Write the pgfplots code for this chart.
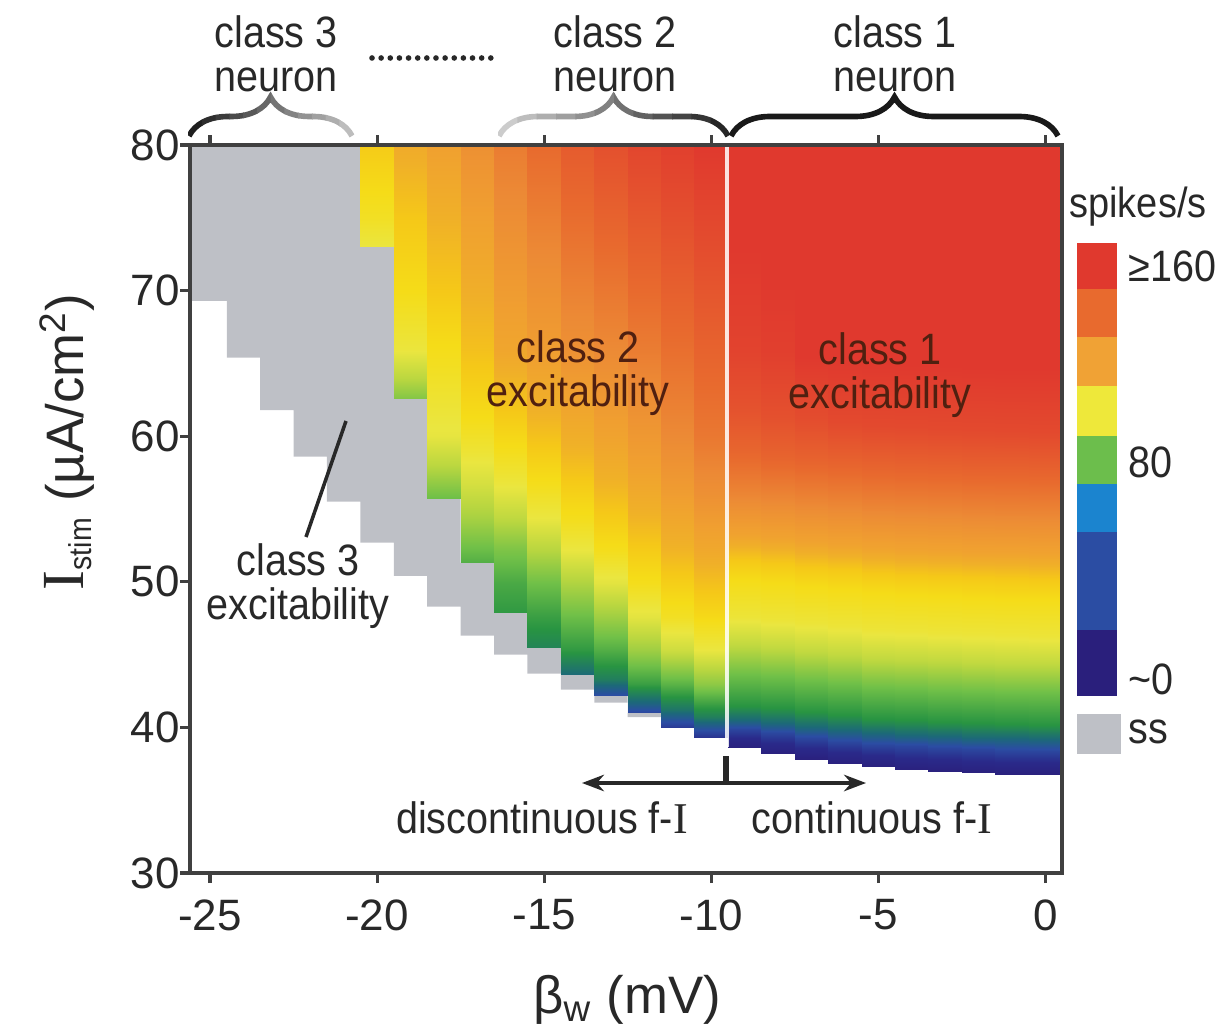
\documentclass[border=0pt]{standalone}
\usepackage{fontspec}
\setmainfont{Liberation Sans}
\newfontfamily\annot{Liberation Sans}[FakeStretch=0.9]
\newfontfamily\serifI{Liberation Serif}
\usepackage{pgfplots}
\pgfplotsset{compat=1.18}
\usetikzlibrary{arrows.meta,decorations.pathreplacing}

\definecolor{ssgray}{RGB}{190,192,198}
\definecolor{txt}{RGB}{40,40,40}
\definecolor{brn}{RGB}{80,32,16}

\pgfplotsset{
  col/.style={surf, shader=interp, mesh/cols=2, point meta=explicit},
}

\begin{document}
\begin{tikzpicture}
\path[use as bounding box] (-1.90,-1.60) rectangle (10.29,8.73);
\begin{axis}[
  at={(0,0)}, anchor=south west,
  scale only axis, width=8.72cm, height=7.28cm,
  xmin=-25.6, xmax=0.5, ymin=30, ymax=80,
  xtick={-25,-20,-15,-10,-5,0},
  xticklabels={-25,-20,-15,-10,-5,0},
  ytick={30,40,50,60,70,80},
  yticklabels={30,40,50,60,70,80},
  tick align=outside, xtick pos=both, ytick pos=left,
  major tick length=1mm,
  axis line style={black!75, line width=1.1pt},
  every tick/.style={black!75, line width=0.9pt},
  tick label style={font=\fontsize{12.5}{14}\selectfont, text=txt},
  xticklabel style={yshift=-0.4mm},
  yticklabel style={xshift=1.2mm},
  colormap={spk}{rgb255(0pt)=(42,31,124) rgb255(12pt)=(42,42,138)
    rgb255(28pt)=(43,77,163) rgb255(42pt)=(28,105,120) rgb255(58pt)=(40,148,66)
    rgb255(75pt)=(112,192,72) rgb255(92pt)=(184,214,64) rgb255(106pt)=(234,230,64)
    rgb255(116pt)=(245,220,24) rgb255(122pt)=(245,200,24) rgb255(128pt)=(240,176,40)
    rgb255(134pt)=(240,160,48) rgb255(141pt)=(236,138,53) rgb255(148pt)=(232,106,46)
    rgb255(155pt)=(228,80,46) rgb255(162pt)=(224,57,46) rgb255(170pt)=(224,57,46)},
  point meta min=0, point meta max=170,
  axis on top, clip=false,
]
% steady state (ss) region
\addplot[fill=ssgray, draw=none] coordinates {(-25.6,80) (-20.5,80) (-20.5,73.0) (-19.5,73.0)
  (-19.5,62.6) (-18.5,62.6) (-18.5,55.7) (-17.5,55.7) (-17.5,51.3) (-16.5,51.3)
  (-16.5,47.9) (-15.5,47.9) (-15.5,45.5) (-14.5,45.5) (-14.5,43.6) (-13.5,43.6)
  (-13.5,42.2) (-12.5,42.2) (-12.5,41.0) (-11.5,41.0) (-11.5,40.7) (-12.5,40.7)
  (-12.5,41.7) (-13.5,41.7) (-13.5,42.6) (-14.5,42.6) (-14.5,43.7) (-15.5,43.7)
  (-15.5,45.0) (-16.5,45.0) (-16.5,46.3) (-17.5,46.3) (-17.5,48.3) (-18.5,48.3)
  (-18.5,50.4) (-19.5,50.4) (-19.5,52.7) (-20.5,52.7) (-20.5,55.5) (-21.5,55.5)
  (-21.5,58.6) (-22.5,58.6) (-22.5,61.8) (-23.5,61.8) (-23.5,65.4) (-24.5,65.4)
  (-24.5,69.3) (-25.6,69.3)} --cycle;

% class 2 columns
\addplot[col] table[row sep=\\, meta=f]{x y f\\
-20.5 73.0 106\\ -19.5 73.0 106\\ -20.5 75 113\\ -19.5 75 113\\
-20.5 78 118\\ -19.5 78 118\\ -20.5 80 121\\ -19.5 80 121\\};
\addplot[col] table[row sep=\\, meta=f]{x y f\\
-19.5 62.6 80\\ -18.5 62.6 80\\ -19.5 64 93\\ -18.5 64 93\\
-19.5 66 107\\ -18.5 66 107\\ -19.5 70 116\\ -18.5 70 116\\
-19.5 75 122\\ -18.5 75 122\\ -19.5 80 130\\ -18.5 80 130\\};
\addplot[col] table[row sep=\\, meta=f]{x y f\\
-18.5 55.7 74\\ -17.5 55.7 74\\ -18.5 58 93\\ -17.5 58 93\\
-18.5 60 105\\ -17.5 60 105\\ -18.5 65 114\\ -17.5 65 114\\
-18.5 70 122\\ -17.5 70 122\\ -18.5 75 128\\ -17.5 75 128\\
-18.5 80 134\\ -17.5 80 134\\};
\addplot[col] table[row sep=\\, meta=f]{x y f\\
-17.5 51.3 68\\ -16.5 51.3 68\\ -17.5 54.4 88\\ -16.5 54.4 88\\
-17.5 56.7 100\\ -16.5 56.7 100\\ -17.5 59 109\\ -16.5 59 109\\
-17.5 61.3 116\\ -16.5 61.3 116\\ -17.5 66 124\\ -16.5 66 124\\
-17.5 72 131\\ -16.5 72 131\\ -17.5 80 139\\ -16.5 80 139\\};
\addplot[col] table[row sep=\\, meta=f]{x y f\\
-16.5 47.9 60\\ -15.5 47.9 60\\ -16.5 49.9 66\\ -15.5 49.9 66\\
-16.5 52.2 78\\ -15.5 52.2 78\\ -16.5 54.4 94\\ -15.5 54.4 94\\
-16.5 56.7 107\\ -15.5 56.7 107\\ -16.5 59 115\\ -15.5 59 115\\
-16.5 61.3 121\\ -15.5 61.3 121\\ -16.5 66 132\\ -15.5 66 132\\
-16.5 80 144\\ -15.5 80 144\\};
\addplot[col] table[row sep=\\, meta=f]{x y f\\
-15.5 45.5 52\\ -14.5 45.5 52\\ -15.5 47.6 62\\ -14.5 47.6 62\\
-15.5 49.9 75\\ -14.5 49.9 75\\ -15.5 52.2 92\\ -14.5 52.2 92\\
-15.5 54.4 106\\ -14.5 54.4 106\\ -15.5 56.7 115\\ -14.5 56.7 115\\
-15.5 59 121\\ -14.5 59 121\\ -15.5 61.3 127\\ -14.5 61.3 127\\
-15.5 66 135\\ -14.5 66 135\\ -15.5 80 148\\ -14.5 80 148\\};
\addplot[col] table[row sep=\\, meta=f]{x y f\\
-14.5 43.6 42\\ -13.5 43.6 42\\ -14.5 45.3 60\\ -13.5 45.3 60\\
-14.5 47.6 74\\ -13.5 47.6 74\\ -14.5 49.9 90\\ -13.5 49.9 90\\
-14.5 52.2 106\\ -13.5 52.2 106\\ -14.5 54.4 115\\ -13.5 54.4 115\\
-14.5 56.7 121\\ -13.5 56.7 121\\ -14.5 59 127\\ -13.5 59 127\\
-14.5 66 139\\ -13.5 66 139\\ -14.5 80 152\\ -13.5 80 152\\};
\addplot[col] table[row sep=\\, meta=f]{x y f\\
-13.5 42.2 28\\ -12.5 42.2 28\\ -13.5 43.3 50\\ -12.5 43.3 50\\
-13.5 45.3 68\\ -12.5 45.3 68\\ -13.5 47.6 86\\ -12.5 47.6 86\\
-13.5 49.9 104\\ -12.5 49.9 104\\ -13.5 52.2 115\\ -12.5 52.2 115\\
-13.5 54.4 121\\ -12.5 54.4 121\\ -13.5 56.7 127\\ -12.5 56.7 127\\
-13.5 60 133\\ -12.5 60 133\\ -13.5 66 141\\ -12.5 66 141\\
-13.5 80 155\\ -12.5 80 155\\};
\addplot[col] table[row sep=\\, meta=f]{x y f\\
-12.5 41.0 24\\ -11.5 41.0 24\\ -12.5 41.7 40\\ -11.5 41.7 40\\
-12.5 43.0 62\\ -11.5 43.0 62\\ -12.5 45.3 86\\ -11.5 45.3 86\\
-12.5 47.6 104\\ -11.5 47.6 104\\ -12.5 49.9 115\\ -11.5 49.9 115\\
-12.5 52.2 121\\ -11.5 52.2 121\\ -12.5 54.4 127\\ -11.5 54.4 127\\
-12.5 58 134\\ -11.5 58 134\\ -12.5 66 144\\ -11.5 66 144\\
-12.5 80 158\\ -11.5 80 158\\};
\addplot[col] table[row sep=\\, meta=f]{x y f\\
-11.5 40.0 20\\ -10.5 40.0 20\\ -11.5 41.2 46\\ -10.5 41.2 46\\
-11.5 43.0 70\\ -10.5 43.0 70\\ -11.5 45.3 98\\ -10.5 45.3 98\\
-11.5 47.6 113\\ -10.5 47.6 113\\ -11.5 49.9 120\\ -10.5 49.9 120\\
-11.5 52.2 127\\ -10.5 52.2 127\\ -11.5 56 135\\ -10.5 56 135\\
-11.5 60 141\\ -10.5 60 141\\ -11.5 66 147\\ -10.5 66 147\\
-11.5 80 160\\ -10.5 80 160\\};
\addplot[col] table[row sep=\\, meta=f]{x y f\\
-10.5 39.3 15\\ -9.5 39.3 15\\ -10.5 40.7 50\\ -9.5 40.7 50\\
-10.5 43.0 82\\ -9.5 43.0 82\\ -10.5 45.3 106\\ -9.5 45.3 106\\
-10.5 47.6 117\\ -9.5 47.6 117\\ -10.5 49.9 124\\ -9.5 49.9 124\\
-10.5 52.2 131\\ -9.5 52.2 131\\ -10.5 56 139\\ -9.5 56 139\\
-10.5 60 145\\ -9.5 60 145\\ -10.5 66 150\\ -9.5 66 150\\
-10.5 80 162\\ -9.5 80 162\\};

% class 1 columns
\addplot[col] table[row sep=\\, meta=f]{x y f\\
-9.5 38.6 2\\ -8.5 38.6 2\\ -9.5 39.3 12\\ -8.5 39.3 12\\
-9.5 39.9 25\\ -8.5 39.9 25\\ -9.5 40.5 42\\ -8.5 40.5 42\\
-9.5 41.5 58\\ -8.5 41.5 58\\
-9.5 43.7 75\\ -8.5 43.7 75\\ -9.5 45.7 95\\ -8.5 45.7 95\\
-9.5 47.6 108\\ -8.5 47.6 108\\ -9.5 50.1 116\\ -8.5 50.1 116\\
-9.5 51.5 122\\ -8.5 51.5 122\\ -9.5 53.2 133\\ -8.5 53.2 133\\
-9.5 56.0 142\\ -8.5 56.0 142\\ -9.5 58.9 149\\ -8.5 58.9 149\\
-9.5 61.6 154\\ -8.5 61.6 154\\ -9.5 65.9 159\\ -8.5 65.9 159\\
-9.5 80 165\\ -8.5 80 165\\};
\addplot[col] table[row sep=\\, meta=f]{x y f\\
-8.5 38.2 2\\ -7.5 38.2 2\\ -8.5 38.9 12\\ -7.5 38.9 12\\
-8.5 39.6 25\\ -7.5 39.6 25\\ -8.5 40.3 42\\ -7.5 40.3 42\\
-8.5 41.3 58\\ -7.5 41.3 58\\
-8.5 43.5 75\\ -7.5 43.5 75\\ -8.5 45.5 95\\ -7.5 45.5 95\\
-8.5 47.4 108\\ -7.5 47.4 108\\ -8.5 49.9 116\\ -7.5 49.9 116\\
-8.5 51.3 122\\ -7.5 51.3 122\\ -8.5 53.0 133\\ -7.5 53.0 133\\
-8.5 55.8 142\\ -7.5 55.8 142\\ -8.5 58.7 150\\ -7.5 58.7 150\\
-8.5 61.4 155\\ -7.5 61.4 155\\ -8.5 65.7 160\\ -7.5 65.7 160\\
-8.5 80 166\\ -7.5 80 166\\};
\addplot[col] table[row sep=\\, meta=f]{x y f\\
-7.5 37.8 2\\ -6.5 37.8 2\\ -7.5 38.6 12\\ -6.5 38.6 12\\
-7.5 39.3 25\\ -6.5 39.3 25\\ -7.5 40.05 42\\ -6.5 40.05 42\\
-7.5 41.05 58\\ -6.5 41.05 58\\
-7.5 43.25 75\\ -6.5 43.25 75\\ -7.5 45.25 95\\ -6.5 45.25 95\\
-7.5 47.15 108\\ -6.5 47.15 108\\ -7.5 49.65 116\\ -6.5 49.65 116\\
-7.5 51.05 122\\ -6.5 51.05 122\\ -7.5 52.75 133\\ -6.5 52.75 133\\
-7.5 55.55 142\\ -6.5 55.55 142\\ -7.5 58.45 150\\ -6.5 58.45 150\\
-7.5 61.15 156\\ -6.5 61.15 156\\ -7.5 65.45 162\\ -6.5 65.45 162\\
-7.5 80 166\\ -6.5 80 166\\};
\addplot[col] table[row sep=\\, meta=f]{x y f\\
-6.5 37.5 2\\ -5.5 37.5 2\\ -6.5 38.3 12\\ -5.5 38.3 12\\
-6.5 39.0 25\\ -5.5 39.0 25\\ -6.5 39.85 42\\ -5.5 39.85 42\\
-6.5 40.85 58\\ -5.5 40.85 58\\
-6.5 43.05 75\\ -5.5 43.05 75\\ -6.5 45.05 95\\ -5.5 45.05 95\\
-6.5 46.95 108\\ -5.5 46.95 108\\ -6.5 49.45 116\\ -5.5 49.45 116\\
-6.5 50.85 122\\ -5.5 50.85 122\\ -6.5 52.55 133\\ -5.5 52.55 133\\
-6.5 55.35 142\\ -5.5 55.35 142\\ -6.5 58.25 150\\ -5.5 58.25 150\\
-6.5 60.95 157\\ -5.5 60.95 157\\ -6.5 65.25 162\\ -5.5 65.25 162\\
-6.5 80 166\\ -5.5 80 166\\};
\addplot[col] table[row sep=\\, meta=f]{x y f\\
-5.5 37.3 2\\ -4.5 37.3 2\\ -5.5 38.1 12\\ -4.5 38.1 12\\
-5.5 38.8 25\\ -4.5 38.8 25\\ -5.5 39.6 42\\ -4.5 39.6 42\\
-5.5 40.6 58\\ -4.5 40.6 58\\
-5.5 42.8 75\\ -4.5 42.8 75\\ -5.5 44.8 95\\ -4.5 44.8 95\\
-5.5 46.7 108\\ -4.5 46.7 108\\ -5.5 49.2 116\\ -4.5 49.2 116\\
-5.5 50.6 122\\ -4.5 50.6 122\\ -5.5 52.3 133\\ -4.5 52.3 133\\
-5.5 55.1 142\\ -4.5 55.1 142\\ -5.5 58.0 150\\ -4.5 58.0 150\\
-5.5 60.7 157\\ -4.5 60.7 157\\ -5.5 65.0 162\\ -4.5 65.0 162\\
-5.5 80 166\\ -4.5 80 166\\};
\addplot[col] table[row sep=\\, meta=f]{x y f\\
-4.5 37.1 2\\ -3.5 37.1 2\\ -4.5 37.9 12\\ -3.5 37.9 12\\
-4.5 38.7 25\\ -3.5 38.7 25\\ -4.5 39.5 42\\ -3.5 39.5 42\\
-4.5 40.5 58\\ -3.5 40.5 58\\
-4.5 42.7 75\\ -3.5 42.7 75\\ -4.5 44.7 95\\ -3.5 44.7 95\\
-4.5 46.6 108\\ -3.5 46.6 108\\ -4.5 49.1 116\\ -3.5 49.1 116\\
-4.5 50.5 122\\ -3.5 50.5 122\\ -4.5 52.2 133\\ -3.5 52.2 133\\
-4.5 55.0 142\\ -3.5 55.0 142\\ -4.5 57.9 150\\ -3.5 57.9 150\\
-4.5 60.6 157\\ -3.5 60.6 157\\ -4.5 64.9 162\\ -3.5 64.9 162\\
-4.5 80 166\\ -3.5 80 166\\};
\addplot[col] table[row sep=\\, meta=f]{x y f\\
-3.5 37.0 2\\ -2.5 37.0 2\\ -3.5 37.8 12\\ -2.5 37.8 12\\
-3.5 38.6 25\\ -2.5 38.6 25\\ -3.5 39.4 42\\ -2.5 39.4 42\\
-3.5 40.4 58\\ -2.5 40.4 58\\
-3.5 42.6 75\\ -2.5 42.6 75\\ -3.5 44.6 95\\ -2.5 44.6 95\\
-3.5 46.5 108\\ -2.5 46.5 108\\ -3.5 49.0 116\\ -2.5 49.0 116\\
-3.5 50.4 122\\ -2.5 50.4 122\\ -3.5 52.1 133\\ -2.5 52.1 133\\
-3.5 54.9 142\\ -2.5 54.9 142\\ -3.5 57.8 150\\ -2.5 57.8 150\\
-3.5 60.5 157\\ -2.5 60.5 157\\ -3.5 64.8 162\\ -2.5 64.8 162\\
-3.5 80 166\\ -2.5 80 166\\};
\addplot[col] table[row sep=\\, meta=f]{x y f\\
-2.5 36.9 2\\ -1.5 36.9 2\\ -2.5 37.7 12\\ -1.5 37.7 12\\
-2.5 38.5 25\\ -1.5 38.5 25\\ -2.5 39.3 42\\ -1.5 39.3 42\\
-2.5 40.3 58\\ -1.5 40.3 58\\
-2.5 42.5 75\\ -1.5 42.5 75\\ -2.5 44.5 95\\ -1.5 44.5 95\\
-2.5 46.4 108\\ -1.5 46.4 108\\ -2.5 48.9 116\\ -1.5 48.9 116\\
-2.5 50.3 122\\ -1.5 50.3 122\\ -2.5 52.0 133\\ -1.5 52.0 133\\
-2.5 54.8 142\\ -1.5 54.8 142\\ -2.5 57.7 150\\ -1.5 57.7 150\\
-2.5 60.4 157\\ -1.5 60.4 157\\ -2.5 64.7 162\\ -1.5 64.7 162\\
-2.5 80 166\\ -1.5 80 166\\};
\addplot[col] table[row sep=\\, meta=f]{x y f\\
-1.5 36.8 2\\ -0.5 36.8 2\\ -1.5 37.6 12\\ -0.5 37.6 12\\
-1.5 38.4 25\\ -0.5 38.4 25\\ -1.5 39.25 42\\ -0.5 39.25 42\\
-1.5 40.25 58\\ -0.5 40.25 58\\
-1.5 42.45 75\\ -0.5 42.45 75\\ -1.5 44.45 95\\ -0.5 44.45 95\\
-1.5 46.35 108\\ -0.5 46.35 108\\ -1.5 48.85 116\\ -0.5 48.85 116\\
-1.5 50.25 122\\ -0.5 50.25 122\\ -1.5 51.95 133\\ -0.5 51.95 133\\
-1.5 54.75 142\\ -0.5 54.75 142\\ -1.5 57.65 150\\ -0.5 57.65 150\\
-1.5 60.35 157\\ -0.5 60.35 157\\ -1.5 64.65 162\\ -0.5 64.65 162\\
-1.5 80 166\\ -0.5 80 166\\};
\addplot[col] table[row sep=\\, meta=f]{x y f\\
-0.5 36.8 2\\ 0.5 36.8 2\\ -0.5 37.6 12\\ 0.5 37.6 12\\
-0.5 38.4 25\\ 0.5 38.4 25\\ -0.5 39.2 42\\ 0.5 39.2 42\\
-0.5 40.2 58\\ 0.5 40.2 58\\
-0.5 42.4 75\\ 0.5 42.4 75\\ -0.5 44.4 95\\ 0.5 44.4 95\\
-0.5 46.3 108\\ 0.5 46.3 108\\ -0.5 48.8 116\\ 0.5 48.8 116\\
-0.5 50.2 122\\ 0.5 50.2 122\\ -0.5 51.9 133\\ 0.5 51.9 133\\
-0.5 54.7 142\\ 0.5 54.7 142\\ -0.5 57.6 150\\ 0.5 57.6 150\\
-0.5 60.3 157\\ 0.5 60.3 157\\ -0.5 64.6 162\\ 0.5 64.6 162\\
-0.5 80 166\\ 0.5 80 166\\};
\end{axis}

% separator between class 2 and class 1
\draw[white, line width=1pt, opacity=0.85] (5.37,1.26) -- (5.37,7.26);

% in-plot labels
\node[text=brn, align=center, font=\annot\fontsize{12.5}{12.5}\selectfont] at (3.88,5.00) {class 2\\excitability};
\node[text=brn, align=center, font=\annot\fontsize{12.5}{12.5}\selectfont] at (6.90,4.98) {class 1\\excitability};
\node[text=txt, align=center, font=\annot\fontsize{12.5}{12.5}\selectfont] at (1.08,2.87) {class 3\\excitability};
\draw[txt, line width=1pt] (1.56,4.52) -- (1.16,3.36);

% f-I arrow
\draw[txt, line width=1pt, {Stealth[length=2.2mm]}-{Stealth[length=2.2mm]}] (3.92,0.90) -- (6.76,0.90);
\draw[txt, line width=1.6pt] (5.36,1.17) -- (5.36,0.90);
\node[text=txt, font=\annot\fontsize{12.5}{12.5}\selectfont] at (3.52,0.55) {discontinuous f-{\serifI I}};
\node[text=txt, font=\annot\fontsize{12.5}{12.5}\selectfont] at (6.82,0.55) {continuous f-{\serifI I}};

% axis labels
\node[text=txt, font=\fontsize{15}{15}\selectfont] at (4.37,-1.27) {β\textsubscript{w} (mV)};
\node[text=txt, rotate=90, font=\fontsize{15}{15}\selectfont] at (-1.23,4.31)
  {{\serifI\fontsize{17}{17}\selectfont I}\textsubscript{\annot\fontsize{9}{9}\selectfont stim} (µA/cm\textsuperscript{2})};

% neuron classes on top
\node[text=txt, align=center, font=\annot\fontsize{12.5}{12.5}\selectfont] at (0.86,8.195) {class 3\\neuron};
\node[text=txt, align=center, font=\annot\fontsize{12.5}{12.5}\selectfont] at (4.25,8.195) {class 2\\neuron};
\node[text=txt, align=center, font=\annot\fontsize{12.5}{12.5}\selectfont] at (7.05,8.195) {class 1\\neuron};
\draw[txt, line width=1.6pt, line cap=round, dash pattern=on 0pt off 2.6pt] (1.82,8.15) -- (3.09,8.15);

\foreach \i in {0,...,11} {
  \pgfmathsetmacro\xa{-0.02+\i*1.65/12}
  \pgfmathsetmacro\xb{\xa+1.65/12+0.01}
  \pgfmathsetmacro\sh{88-\i*62/11}
  \begin{scope}
    \clip (\xa,7.0) rectangle (\xb,8.0);
    \draw[black!\sh, line width=1.6pt, decorate, decoration={brace, amplitude=3.9mm}] (-0.01,7.37) -- (1.62,7.37);
  \end{scope}
  \pgfmathsetmacro\xc{3.08+\i*2.32/12}
  \pgfmathsetmacro\xd{\xc+2.32/12+0.01}
  \pgfmathsetmacro\sk{20+\i*65/11}
  \begin{scope}
    \clip (\xc,7.0) rectangle (\xd,8.0);
    \draw[black!\sk, line width=1.6pt, decorate, decoration={brace, amplitude=3.9mm}] (3.09,7.37) -- (5.38,7.37);
  \end{scope}
}
\draw[black!90, line width=1.6pt, decorate, decoration={brace, amplitude=3.9mm}] (5.41,7.37) -- (8.68,7.37);

% colour key
\node[text=txt, font=\annot\fontsize{12}{12}\selectfont] at (9.48,6.66) {spikes/s};
\fill[fill={rgb,255:red,224;green,57;blue,46}] (8.87,5.84) rectangle (9.27,6.30);
\fill[fill={rgb,255:red,232;green,106;blue,46}] (8.87,5.355) rectangle (9.27,5.84);
\fill[fill={rgb,255:red,240;green,162;blue,53}] (8.87,4.87) rectangle (9.27,5.355);
\fill[fill={rgb,255:red,238;green,232;blue,58}] (8.87,4.37) rectangle (9.27,4.87);
\fill[fill={rgb,255:red,108;green,190;blue,76}] (8.87,3.89) rectangle (9.27,4.37);
\fill[fill={rgb,255:red,27;green,132;blue,207}] (8.87,3.41) rectangle (9.27,3.89);
\fill[fill={rgb,255:red,43;green,77;blue,163}] (8.87,2.43) rectangle (9.27,3.41);
\fill[fill={rgb,255:red,42;green,31;blue,124}] (8.87,1.77) rectangle (9.27,2.43);
\fill[ssgray] (8.87,1.19) rectangle (9.31,1.59);
\node[text=txt, anchor=west, font=\annot\fontsize{12.5}{12.5}\selectfont, inner sep=0pt] at (9.38,6.07) {≥160};
\node[text=txt, anchor=west, font=\annot\fontsize{12.5}{12.5}\selectfont, inner sep=0pt] at (9.38,4.11) {80};
\node[text=txt, anchor=west, font=\annot\fontsize{12.5}{12.5}\selectfont, inner sep=0pt] at (9.38,1.94) {\textasciitilde 0};
\node[text=txt, anchor=west, font=\annot\fontsize{12.5}{12.5}\selectfont, inner sep=0pt] at (9.38,1.41) {ss};
\end{tikzpicture}
\end{document}
